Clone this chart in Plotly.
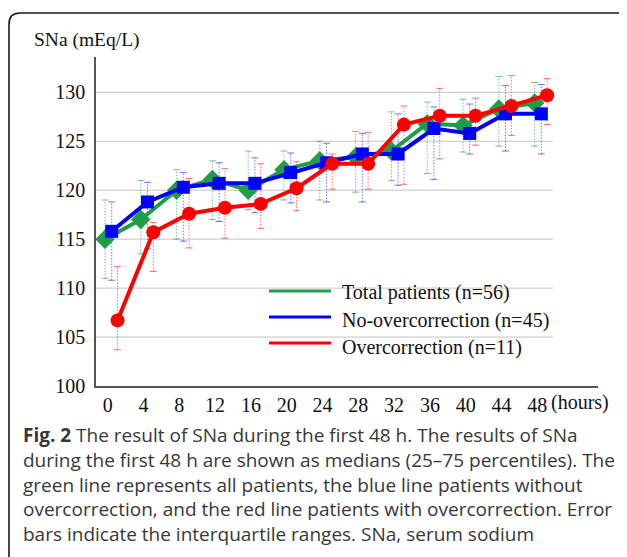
import plotly.graph_objects as go

# ---------------- data ----------------
hours = [0, 4, 8, 12, 16, 20, 24, 28, 32, 36, 40, 44, 48]
tick_labels = [str(h) for h in hours]
y_ticks = [100, 105, 110, 115, 120, 125, 130]

total_med = [115.0, 117.0, 120.0, 121.1, 120.0, 122.1, 123.0, 123.4, 124.0, 126.8, 126.6, 128.3, 128.9]
total_q1 = [111.0, 113.5, 115.0, 117.0, 118.0, 119.0, 119.0, 119.8, 121.0, 121.7, 123.9, 124.5, 124.5]
total_q3 = [119.0, 121.0, 122.1, 123.0, 124.0, 124.0, 125.0, 126.0, 128.0, 129.0, 129.3, 131.6, 131.0]

noover_med = [115.8, 118.8, 120.3, 120.7, 120.7, 121.8, 122.8, 123.7, 123.7, 126.3, 125.8, 127.8, 127.8]
noover_q1 = [110.8, 114.0, 114.8, 116.8, 117.7, 118.7, 118.8, 118.8, 120.5, 121.1, 123.7, 124.0, 123.7]
noover_q3 = [118.8, 120.8, 121.8, 122.8, 123.3, 123.8, 124.8, 125.8, 127.8, 128.5, 128.8, 130.7, 130.8]

over_med = [106.7, 115.7, 117.6, 118.2, 118.6, 120.2, 122.7, 122.7, 126.7, 127.6, 127.6, 128.6, 129.7]
over_q1 = [103.7, 111.7, 114.1, 115.1, 116.1, 117.9, 120.1, 120.1, 120.6, 123.2, 124.6, 125.6, 126.7]
over_q3 = [112.2, 116.7, 121.2, 122.2, 122.7, 122.9, 123.7, 125.9, 128.6, 130.4, 129.4, 131.7, 131.4]

series_names = ["Total patients (n=56)", "No-overcorrection (n=45)", "Overcorrection (n=11)"]

caption_lines = [
    "<b>Fig. 2</b> The result of SNa during the first 48 h. The results of SNa",
    "during the first 48 h are shown as medians (25–75 percentiles). The",
    "green line represents all patients, the blue line patients without",
    "overcorrection, and the red line patients with overcorrection. Error",
    "bars indicate the interquartile ranges. SNa, serum sodium",
]

# ---------------- layout geometry ----------------
# the page body adds an 8px margin, so everything is laid out 8px up/left
OFF = 8
W, H = 627, 557
PLOT_L, PLOT_R, PLOT_T, PLOT_B = 96, 598, 57, 386   # target page pixels
ML = PLOT_L - OFF
MT = PLOT_T - OFF
MR = W - (PLOT_R - OFF)
MB = H - (PLOT_B - OFF)
PW, PH = W - ML - MR, H - MT - MB


def px(x):
    return (x - PLOT_L) / PW


def py(y):
    return (PLOT_B - y) / PH


SERIF = "Liberation Serif, Times New Roman, serif"
SANS = "Open Sans, Noto Sans, sans-serif"

styles = [
    dict(color="#1E9E48", err="rgba(30,158,72,0.6)", symbol="diamond", size=15, offset=0.0),
    dict(color="#0000FF", err="rgba(0,0,255,0.55)", symbol="square", size=13, offset=0.75),
    dict(color="#FF0000", err="rgba(255,0,0,0.55)", symbol="circle", size=14, offset=1.4),
]
data = [
    (total_med, total_q1, total_q3),
    (noover_med, noover_q1, noover_q3),
    (over_med, over_q1, over_q3),
]

fig = go.Figure()

# dotted interquartile error bars first (under all lines)
for (med, q1, q3), st in zip(data, styles):
    xs = [h + st["offset"] for h in hours]
    bx, by = [], []
    for x, lo, hi in zip(xs, q1, q3):
        bx += [x, x, None]
        by += [lo, hi, None]
    fig.add_trace(go.Scatter(
        x=bx, y=by, mode="lines",
        line=dict(color=st["err"], width=1, dash="1.5px,1.5px"),
        showlegend=False, hoverinfo="skip",
    ))
    fig.add_trace(go.Scatter(
        x=xs + xs, y=q1 + q3, mode="markers",
        marker=dict(symbol="line-ew", size=5, line=dict(color=st["err"], width=1)),
        showlegend=False, hoverinfo="skip",
    ))

for (med, q1, q3), st, name in zip(data, styles, series_names):
    xs = [h + st["offset"] for h in hours]
    fig.add_trace(go.Scatter(
        x=xs, y=med, mode="lines+markers", name=name,
        line=dict(color=st["color"], width=4),
        marker=dict(symbol=st["symbol"], size=st["size"], color=st["color"],
                    line=dict(width=0)),
        showlegend=False,
    ))

shapes = []
# gridlines
for v in y_ticks[1:]:
    shapes.append(dict(type="line", xref="paper", yref="y", x0=0, x1=px(553),
                       y0=v, y1=v, line=dict(color="#C4C4C4", width=1), layer="below"))
# frame (rounded top-left corner)
path = (f"M {px(9)},{py(580)} L {px(9)},{py(24)} "
        f"Q {px(9)},{py(13)} {px(20)},{py(13)} L {px(650)},{py(13)}")
shapes.append(dict(type="path", xref="paper", yref="paper", path=path,
                   line=dict(color="#1a1a1a", width=1.6)))

annotations = []
# legend (lines + labels)
leg_line_y = [291, 317, 343]
leg_text_y = [292, 320, 347]
for st, name, ly, ty in zip(styles, series_names, leg_line_y, leg_text_y):
    shapes.append(dict(type="line", xref="paper", yref="paper",
                       x0=px(269), x1=px(331), y0=py(ly), y1=py(ly),
                       line=dict(color=st["color"], width=3)))
    annotations.append(dict(text=name, xref="paper", yref="paper", x=px(340), y=py(ty),
                            xanchor="left", yanchor="middle", showarrow=False,
                            font=dict(family=SERIF, size=20, color="#111")))

# axis title
annotations.append(dict(text="SNa (mEq/L)", xref="paper", yref="paper", x=px(32), y=py(40),
                        xanchor="left", yanchor="middle", showarrow=False,
                        font=dict(family=SERIF, size=19.5, color="#111")))
annotations.append(dict(text="(hours)", xref="paper", yref="paper", x=px(549), y=py(402),
                        xanchor="left", yanchor="middle", showarrow=False,
                        font=dict(family=SERIF, size=20, color="#111")))

# caption
cap_y = [435, 460, 485, 509, 534]
for txt, cy in zip(caption_lines, cap_y):
    annotations.append(dict(text=txt, xref="paper", yref="paper", x=px(21), y=py(cy),
                            xanchor="left", yanchor="middle", showarrow=False,
                            font=dict(family=SANS, size=19, color="#383838")))

x0 = -9 / 8.95
x1 = x0 + PW / 8.95

fig.update_layout(
    width=W, height=H,
    margin=dict(l=ML, r=MR, t=MT, b=MB),
    paper_bgcolor="white", plot_bgcolor="white",
    showlegend=False,
    shapes=shapes, annotations=annotations,
    xaxis=dict(range=[x0, x1], showgrid=False, zeroline=False,
               tickmode="array", tickvals=[h + 0.3 for h in hours], ticktext=tick_labels,
               ticks="", showline=True, linecolor="#555", linewidth=1.5,
               tickfont=dict(family=SERIF, size=20, color="#111"),
               ticklabelstandoff=0),
    yaxis=dict(range=[100, 100 + PH / 9.79], showgrid=False, zeroline=False,
               tickmode="array", tickvals=y_ticks, ticktext=[str(v) for v in y_ticks],
               ticks="", showline=True, linecolor="#555", linewidth=1.5,
               tickfont=dict(family=SERIF, size=20, color="#111"),
               ticklabelstandoff=5),
)

fig.write_html("out.html")
